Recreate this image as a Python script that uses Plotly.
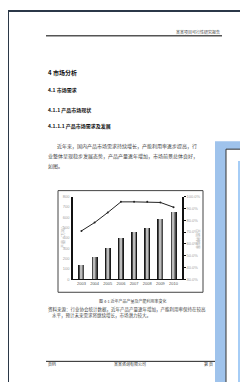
import plotly.graph_objects as go

W, H = 248, 382

# ---- data ----
years = ["2003", "2004", "2005", "2006", "2007", "2008", "2009", "2010"]
output = [140, 225, 310, 405, 460, 500, 590, 660]          # left axis (bars)
utilization = [71, 78, 86.5, 95.5, 95.5, 95.5, 95, 91]      # right axis (%), line
left_ticks = [0, 100, 200, 300, 400, 500, 600, 700, 800]
right_ticks = [30, 40, 50, 60, 70, 80, 90, 100]

header_text = "某某项目可行性研究报告"
h1 = "4 市场分析"
h2 = "4.1 市场需求"
h3 = "4.1.1 产品市场现状"
h4 = "4.1.1.1 产品市场需求及发展"
para = ["近年来，国内产品市场需求持续增长，产能利用率逐步提高，行",
        "业整体呈现稳步发展态势，产品产量逐年增加，市场前景总体良好，",
        "如图。"]
caption = "图 4-1 近年产品产量及产能利用率变化"
para2 = ["资料来源：行业协会统计数据，近年产品产量逐年增加，产能利用率保持在较高",
         "水平，预计未来需求将继续增长，市场潜力较大。"]
footer = ["页码", "某某咨询有限公司", "第 页"]

def px(x):
    return x / W

def py(y):
    return 1 - y / H

FONT = "Noto Sans CJK SC"

fig = go.Figure()

# bars with simulated cylinder shading (overlayed narrower lighter bars)
shades = [(0.46, "#1a1a1a"), (0.34, "#4a4a4a"), (0.22, "#7e7e7e"), (0.1, "#bcbcbc")]
for w, c in shades:
    fig.add_trace(go.Bar(x=years, y=output, width=w, marker=dict(color=c, line=dict(width=0)),
                         showlegend=False, hoverinfo="skip"))

fig.add_trace(go.Scatter(x=years, y=utilization, yaxis="y2", mode="lines+markers",
                         line=dict(color="#222222", width=1),
                         marker=dict(size=2, color="#222222"), showlegend=False))

tickfont = dict(family="Liberation Sans", size=4, color="#a0a0a0")
fig.update_layout(
    width=W, height=H, margin=dict(l=0, r=0, t=0, b=0),
    paper_bgcolor="white", plot_bgcolor="rgba(0,0,0,0)",
    barmode="overlay", bargap=0,
    xaxis=dict(domain=[px(65), px(174)], showline=True, linecolor="#111", linewidth=1.2,
               showgrid=False, ticks="", tickfont=dict(family="Liberation Sans", size=4, color="#555"),
               ticklabelstandoff=0),
    yaxis=dict(domain=[py(272), py(188)], range=[0, 800], tickvals=left_ticks,
               showline=True, linecolor="#111", linewidth=1.5, showgrid=False, zeroline=False,
               ticks="", tickfont=tickfont, ticklabelstandoff=1),
    yaxis2=dict(overlaying="y", side="right", range=[30, 100], tickvals=right_ticks,
                ticktext=[f"{v}.0%" for v in right_ticks],
                showline=True, linecolor="#111", linewidth=1.5, showgrid=False, zeroline=False,
                ticks="outside", ticklen=2, tickcolor="#111", tickfont=tickfont),
)

shapes = []
# page border
shapes.append(dict(type="rect", xref="paper", yref="paper", x0=0, y0=0, x1=1, y1=1,
                   line=dict(color="#2b3848", width=2), layer="below"))
# header line
shapes.append(dict(type="line", xref="paper", yref="paper", x0=px(38), x1=px(214), y0=py(25), y1=py(25),
                   line=dict(color="#555", width=1.5)))
# chart frame
shapes.append(dict(type="rect", xref="paper", yref="paper", x0=px(50), x1=px(195), y0=py(285), y1=py(182),
                   line=dict(color="#444", width=1), layer="below"))
# footer line
shapes.append(dict(type="line", xref="paper", yref="paper", x0=px(38), x1=px(208), y0=py(355), y1=py(355),
                   line=dict(color="#222", width=1)))
# blue overlay panel
shapes.append(dict(type="rect", xref="paper", yref="paper", x0=px(207), x1=1.05, y0=-0.05, y1=py(132),
                   fillcolor="#9fc3ec", line=dict(width=0), layer="above"))
shapes.append(dict(type="rect", xref="paper", yref="paper", x0=px(218), x1=1.05, y0=-0.05, y1=py(140),
                   fillcolor="white", line=dict(color="#333", width=1), layer="above"))
shapes.append(dict(type="rect", xref="paper", yref="paper", x0=px(230), x1=1.05, y0=-0.05, y1=py(152),
                   fillcolor="#a6cdf6", line=dict(width=0), layer="above"))
fig.update_layout(shapes=shapes)

ann = []
def text(x, y, s, size=5, color="#333", bold=False, xanchor="left", angle=0):
    ann.append(dict(xref="paper", yref="paper", x=px(x), y=py(y), text=f"<b>{s}</b>" if bold else s,
                    showarrow=False, xanchor=xanchor, yanchor="middle", textangle=angle,
                    font=dict(family=FONT, size=size, color=color)))

text(214, 21, header_text, size=4, color="#444", xanchor="right")
text(38, 62, h1, size=6, color="#111", bold=True)
text(38, 80, h2, size=5, color="#111", bold=True)
text(38, 100, h3, size=5, color="#111", bold=True)
text(38, 117, h4, size=5, color="#111", bold=True)
text(47, 137, para[0], size=5, color="#444")
text(38, 147, para[1], size=5, color="#444")
text(38, 157, para[2], size=5, color="#444")
text(55, 228, "产量（万吨）", size=4, color="#aaa", xanchor="center", angle=-90)
text(190, 231, "产能利用率", size=4, color="#aaa", xanchor="center", angle=90)
text(125, 294, caption, size=4, color="#444", xanchor="center")
text(38, 302, para2[0], size=4.5, color="#444")
text(42, 309, para2[1], size=4.5, color="#444")
text(38, 358, footer[0], size=4, color="#333")
text(122, 358, footer[1], size=4, color="#333", xanchor="center")
text(207, 358, footer[2], size=4, color="#333", xanchor="right")
fig.update_layout(annotations=ann)

fig.write_html("out.html")
